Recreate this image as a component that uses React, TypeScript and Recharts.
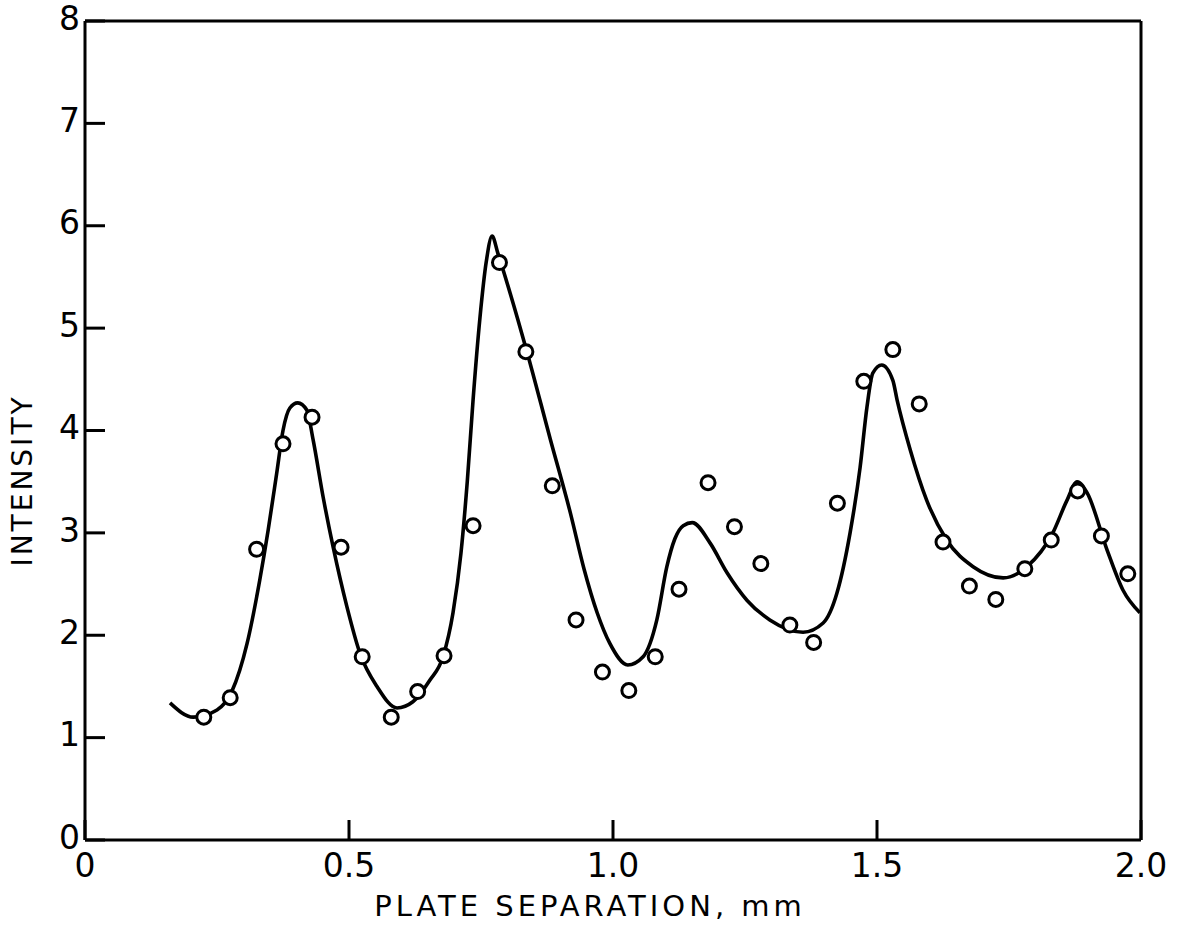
import { ComposedChart, Line, Scatter, XAxis, YAxis } from 'recharts';

// measured points (open circles)
const sepX = [0.225, 0.275, 0.325, 0.375, 0.43, 0.485, 0.525, 0.58, 0.63, 0.68, 0.735, 0.785, 0.835, 0.885, 0.93, 0.98, 1.03, 1.08, 1.125, 1.18, 1.23, 1.28, 1.335, 1.38, 1.425, 1.475, 1.53, 1.58, 1.625, 1.675, 1.725, 1.78, 1.83, 1.88, 1.925, 1.975];
const intensity = [1.2, 1.39, 2.84, 3.87, 4.13, 2.86, 1.79, 1.2, 1.45, 1.8, 3.07, 5.64, 4.77, 3.46, 2.15, 1.64, 1.46, 1.79, 2.45, 3.49, 3.06, 2.7, 2.1, 1.93, 3.29, 4.48, 4.79, 4.26, 2.91, 2.48, 2.35, 2.65, 2.93, 3.41, 2.97, 2.6];

// fitted curve
const curveX = [0.161, 0.205, 0.25, 0.278, 0.307, 0.331, 0.347, 0.363, 0.375, 0.388, 0.403, 0.42, 0.432, 0.451, 0.47, 0.496, 0.521, 0.553, 0.591, 0.621, 0.653, 0.678, 0.697, 0.712, 0.724, 0.735, 0.748, 0.76, 0.771, 0.782, 0.82, 0.837, 0.881, 0.919, 0.945, 0.97, 0.994, 1.028, 1.057, 1.083, 1.102, 1.117, 1.133, 1.15, 1.184, 1.216, 1.254, 1.297, 1.36, 1.398, 1.424, 1.449, 1.468, 1.481, 1.492, 1.509, 1.53, 1.538, 1.563, 1.594, 1.632, 1.682, 1.739, 1.784, 1.833, 1.86, 1.879, 1.898, 1.936, 1.966, 1.998];
const curveY = [1.34, 1.2, 1.27, 1.45, 1.92, 2.54, 3.03, 3.58, 4.0, 4.22, 4.27, 4.2, 3.91, 3.35, 2.86, 2.28, 1.82, 1.5, 1.29, 1.35, 1.56, 1.79, 2.22, 2.8, 3.5, 4.3, 5.1, 5.65, 5.9, 5.73, 5.08, 4.77, 3.92, 3.2, 2.65, 2.22, 1.92, 1.71, 1.79, 2.15, 2.67, 2.94, 3.07, 3.1, 2.9, 2.61, 2.34, 2.15, 2.03, 2.12, 2.41, 3.0, 3.64, 4.23, 4.56, 4.64, 4.49, 4.3, 3.81, 3.32, 2.93, 2.67, 2.56, 2.67, 3.0, 3.32, 3.5, 3.39, 2.83, 2.44, 2.22];

const xTicks = [0, 0.5, 1, 1.5, 2];
const yTicks = [0, 1, 2, 3, 4, 5, 6, 7, 8];
const innerXTicks = [0.5, 1, 1.5];
const innerYTicks = [1, 2, 3, 4, 5, 6, 7];

const points = sepX.map((x, i) => ({ x, y: intensity[i] }));
const curve = curveX.map((x, i) => ({ x, y: curveY[i] }));

const font = '"DejaVu Sans", sans-serif';
const axisLine = { stroke: '#000', strokeWidth: 3 };
const tickLine = { stroke: '#000', strokeWidth: 3 };

const Ring = (props: any) => (
  <circle cx={props.cx} cy={props.cy} r={7} fill="#fff" stroke="#000" strokeWidth={3} />
);

const YTitle = (props: any) => {
  const vb = props.viewBox || { x: 0, y: 21, width: 85, height: 819 };
  const cx = vb.x + 22;
  const cy = vb.y + vb.height / 2 + 50;
  return (
    <text
      x={cx}
      y={cy}
      transform={`rotate(-90 ${cx} ${cy})`}
      textAnchor="middle"
      dominantBaseline="central"
      fontFamily={font}
      fontSize={28}
      letterSpacing={3}
      fill="#000"
    >
      INTENSITY
    </text>
  );
};

const XTitle = (props: any) => {
  const vb = props.viewBox || { x: 85, y: 840, width: 1056, height: 93 };
  const cx = vb.x + vb.width / 2 - 23;
  const cy = vb.y + vb.height - 17;
  return (
    <text x={cx} y={cy} textAnchor="middle" fontFamily={font} fontSize={29} letterSpacing={4} fill="#000">
      PLATE SEPARATION, mm
    </text>
  );
};

export default function App() {
  return (
    <div style={{ position: 'absolute', left: 0, top: 0 }}>
      <ComposedChart width={1183} height={933} margin={{ top: 0, right: 0, bottom: 0, left: 0 }}>
        <XAxis
          dataKey="x"
          type="number"
          domain={[0, 2]}
          ticks={xTicks}
          height={93}
          axisLine={axisLine}
          tickLine={tickLine}
          tickSize={-20}
          tickMargin={34}
          tickFormatter={(v: number) => (v === 0 ? '0' : v.toFixed(1))}
          tick={{ fill: '#000', fontSize: 33, fontFamily: font }}
          interval={0}
          label={<XTitle />}
        />
        <XAxis
          xAxisId="top"
          orientation="top"
          type="number"
          domain={[0, 2]}
          ticks={innerXTicks}
          height={21}
          axisLine={axisLine}
          tickLine={tickLine}
          tickSize={-20}
          tick={false}
        />
        <YAxis
          dataKey="y"
          type="number"
          domain={[0, 8]}
          ticks={yTicks}
          width={85}
          axisLine={axisLine}
          tickLine={tickLine}
          tickSize={-20}
          tickMargin={25}
          tick={{ fill: '#000', fontSize: 33, fontFamily: font, dy: -3 }}
          interval={0}
          label={<YTitle />}
        />
        <YAxis
          yAxisId="right"
          orientation="right"
          type="number"
          domain={[0, 8]}
          ticks={innerYTicks}
          width={42}
          axisLine={axisLine}
          tickLine={tickLine}
          tickSize={-20}
          tick={false}
        />
        <Line
          data={curve}
          dataKey="y"
          type="monotone"
          stroke="#000"
          strokeWidth={3.6}
          dot={false}
          activeDot={false}
          isAnimationActive={false}
        />
        <Scatter data={points} dataKey="y" shape={Ring} isAnimationActive={false} />
      </ComposedChart>
    </div>
  );
}
